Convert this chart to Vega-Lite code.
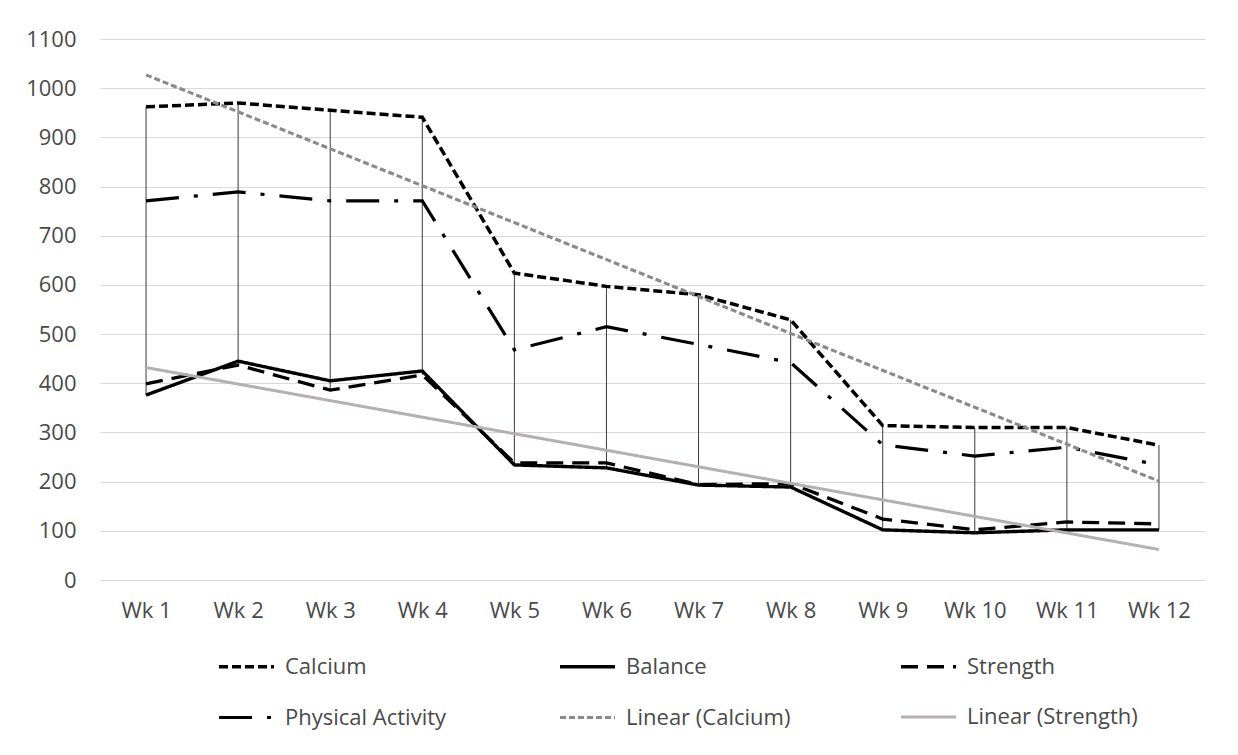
{
  "$schema": "https://vega.github.io/schema/vega-lite/v6.json",
  "autosize": {"type": "none"},
  "padding": {"left": 100, "top": 39, "right": 33, "bottom": 175},
  "width": 1105,
  "height": 541,
  "background": "white",
  "config": {
    "view": {"stroke": null},
    "font": "Open Sans",
    "axis": {"labelColor": "#4a4a4a", "labelFont": "Open Sans", "labelFontSize": 22, "domain": false, "ticks": false, "title": null},
    "legend": {"labelColor": "#4a4a4a", "labelFont": "Open Sans", "labelFontSize": 22}
  },
  "datasets": {
    "series": [
      {"week": "Wk 1", "series": "Calcium", "value": 962},
      {"week": "Wk 2", "series": "Calcium", "value": 970},
      {"week": "Wk 3", "series": "Calcium", "value": 955},
      {"week": "Wk 4", "series": "Calcium", "value": 941},
      {"week": "Wk 5", "series": "Calcium", "value": 624},
      {"week": "Wk 6", "series": "Calcium", "value": 597},
      {"week": "Wk 7", "series": "Calcium", "value": 580},
      {"week": "Wk 8", "series": "Calcium", "value": 529},
      {"week": "Wk 9", "series": "Calcium", "value": 314},
      {"week": "Wk 10", "series": "Calcium", "value": 310},
      {"week": "Wk 11", "series": "Calcium", "value": 310},
      {"week": "Wk 12", "series": "Calcium", "value": 274},
      {"week": "Wk 1", "series": "Balance", "value": 376},
      {"week": "Wk 2", "series": "Balance", "value": 445},
      {"week": "Wk 3", "series": "Balance", "value": 405},
      {"week": "Wk 4", "series": "Balance", "value": 425},
      {"week": "Wk 5", "series": "Balance", "value": 234},
      {"week": "Wk 6", "series": "Balance", "value": 228},
      {"week": "Wk 7", "series": "Balance", "value": 193},
      {"week": "Wk 8", "series": "Balance", "value": 189},
      {"week": "Wk 9", "series": "Balance", "value": 102},
      {"week": "Wk 10", "series": "Balance", "value": 96},
      {"week": "Wk 11", "series": "Balance", "value": 102},
      {"week": "Wk 12", "series": "Balance", "value": 102},
      {"week": "Wk 1", "series": "Strength", "value": 399},
      {"week": "Wk 2", "series": "Strength", "value": 437},
      {"week": "Wk 3", "series": "Strength", "value": 386},
      {"week": "Wk 4", "series": "Strength", "value": 417},
      {"week": "Wk 5", "series": "Strength", "value": 238},
      {"week": "Wk 6", "series": "Strength", "value": 238},
      {"week": "Wk 7", "series": "Strength", "value": 194},
      {"week": "Wk 8", "series": "Strength", "value": 196},
      {"week": "Wk 9", "series": "Strength", "value": 124},
      {"week": "Wk 10", "series": "Strength", "value": 102},
      {"week": "Wk 11", "series": "Strength", "value": 118},
      {"week": "Wk 12", "series": "Strength", "value": 114},
      {"week": "Wk 1", "series": "Physical Activity", "value": 771},
      {"week": "Wk 2", "series": "Physical Activity", "value": 789},
      {"week": "Wk 3", "series": "Physical Activity", "value": 771},
      {"week": "Wk 4", "series": "Physical Activity", "value": 771},
      {"week": "Wk 5", "series": "Physical Activity", "value": 468},
      {"week": "Wk 6", "series": "Physical Activity", "value": 515},
      {"week": "Wk 7", "series": "Physical Activity", "value": 479},
      {"week": "Wk 8", "series": "Physical Activity", "value": 442},
      {"week": "Wk 9", "series": "Physical Activity", "value": 275},
      {"week": "Wk 10", "series": "Physical Activity", "value": 252},
      {"week": "Wk 11", "series": "Physical Activity", "value": 270},
      {"week": "Wk 12", "series": "Physical Activity", "value": 234}
    ],
    "trend": [
      {"week": "Wk 1", "series": "Linear (Calcium)", "value": 1027},
      {"week": "Wk 12", "series": "Linear (Calcium)", "value": 201},
      {"week": "Wk 1", "series": "Linear (Strength)", "value": 432},
      {"week": "Wk 12", "series": "Linear (Strength)", "value": 62}
    ]
  },
  "encoding": {
    "x": {
      "field": "week", "type": "ordinal", "sort": null,
      "scale": {"domain": ["Wk 1","Wk 2","Wk 3","Wk 4","Wk 5","Wk 6","Wk 7","Wk 8","Wk 9","Wk 10","Wk 11","Wk 12"], "type": "point", "padding": 0.5},
      "axis": {"labelAngle": 0, "labelPadding": 20, "grid": false}
    },
    "y": {
      "field": "value", "type": "quantitative",
      "scale": {"domain": [0, 1100], "nice": false},
      "axis": {"values": [0,100,200,300,400,500,600,700,800,900,1000,1100], "format": "d", "grid": true, "gridColor": "#d9d9d9", "gridWidth": 1.2, "labelPadding": 24}
    }
  },
  "layer": [
    {
      "data": {"name": "series"},
      "mark": {"type": "rule", "color": "#3a3a3a", "strokeWidth": 1},
      "encoding": {
        "y": {"aggregate": "max", "field": "value", "type": "quantitative"},
        "y2": {"aggregate": "min", "field": "value"}
      }
    },
    {
      "data": {"name": "series"},
      "mark": {"type": "line", "strokeJoin": "miter"},
      "encoding": {
        "color": {
          "field": "series", "type": "nominal",
          "scale": {
            "domain": ["Calcium", "Balance", "Strength", "Physical Activity", "Linear (Calcium)", "Linear (Strength)"],
            "range": ["#000000", "#000000", "#000000", "#000000", "#8a8a8a", "#b5afaf"]
          },
          "legend": {
            "title": null, "orient": "none", "legendX": 117, "legendY": 598,
            "columns": 3, "direction": "horizontal", "gridAlign": "all", "columnPadding": 97, "rowPadding": 10,
            "symbolType": "stroke", "symbolSize": 3025, "labelOffset": 9, "labelLimit": 300
          }
        },
        "strokeDash": {
          "field": "series", "type": "nominal",
          "scale": {
            "domain": ["Calcium", "Balance", "Strength", "Physical Activity", "Linear (Calcium)", "Linear (Strength)"],
            "range": [[9, 4], [1, 0], [17, 9], [33, 15, 4, 15], [6, 3], [1, 0]]
          }
        },
        "strokeWidth": {
          "field": "series", "type": "nominal",
          "scale": {
            "domain": ["Calcium", "Balance", "Strength", "Physical Activity", "Linear (Calcium)", "Linear (Strength)"],
            "range": [3.5, 3, 3.5, 3.5, 2, 3.5]
          }
        }
      }
    },
    {
      "data": {"name": "trend"},
      "mark": {"type": "line"},
      "encoding": {
        "color": {"field": "series", "type": "nominal"},
        "strokeDash": {"field": "series", "type": "nominal"},
        "strokeWidth": {"field": "series", "type": "nominal"}
      }
    }
  ]
}
